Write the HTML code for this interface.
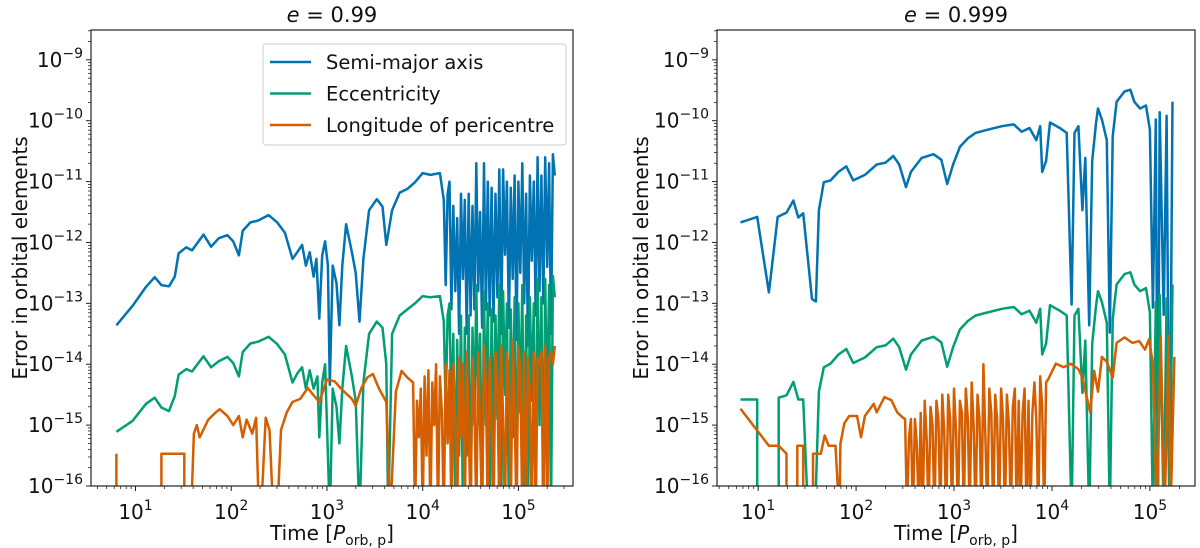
<!DOCTYPE html>
<html><head><meta charset="utf-8">
<style>
html,body{margin:0;padding:0;background:#fff;}
svg{display:block;font-family:"DejaVu Sans","Liberation Sans",sans-serif;}
</style></head>
<body>
<svg id="chart" width="1200" height="548" viewBox="0 0 1200 548" xmlns="http://www.w3.org/2000/svg">
<defs>
<clipPath id="clipL"><rect x="91" y="30" width="482" height="456"/></clipPath>
<clipPath id="clipR"><rect x="717" y="30" width="478" height="456"/></clipPath>
</defs>
</svg>
<script>
// log10(time) and log10(error) arrays; null breaks the line; -16.5 = below axis
const leftBlueT=[0.80,0.97,1.11,1.20,1.27,1.35,1.41,1.45,1.53,1.59,1.71,1.79,1.87,1.96,2.02,2.08,2.12,2.20,2.28,2.39,2.48,2.56,2.64,2.69,2.74,2.78,2.82,2.86,2.89,2.92,2.95,2.98,3.01,3.03,3.06,3.10,3.13,3.16,3.20,3.26,3.30,3.34,3.38,3.44,3.52,3.58,3.62,3.68,3.76,3.84,3.92,4.00,4.08,4.18,
4.22,4.24,4.26,4.28,4.30,4.32,4.34,4.36,4.38,4.40,4.42,4.44,4.46,4.48,4.50,4.52,4.54,4.56,4.58,4.60,4.62,4.64,4.66,4.68,4.70,4.72,4.74,4.76,4.78,4.80,4.82,4.84,4.86,4.88,4.90,4.92,4.94,4.96,4.98,5.00,5.02,5.04,5.06,5.08,5.10,5.12,5.14,5.16,5.18,5.20,5.22,5.24,5.26,5.28,5.30,5.32,5.34,5.36,5.38];
const leftBlueE=[-13.36,-13.04,-12.73,-12.57,-12.70,-12.72,-12.56,-12.18,-12.08,-12.13,-11.87,-12.07,-11.93,-11.88,-11.98,-12.21,-11.81,-11.67,-11.64,-11.55,-11.67,-11.84,-12.27,-12.16,-12.04,-12.38,-12.16,-12.56,-12.27,-13.25,-12.21,-11.98,-12.38,-14.34,-12.38,-12.67,-13.36,-12.38,-11.70,-12.16,-12.50,-13.30,-12.27,-11.47,-11.29,-11.41,-12.04,-11.47,-11.18,-11.12,-11.01,-10.86,-10.89,-10.86,
-11.3,-12.7,-11.2,-11.0,-13.1,-11.4,-12.8,-11.6,-13.5,-11.2,
-12.6,-11.3,-13.5,-11.2,-13.2,-11.4,-13.1,-10.7,-12.8,-11.5,
-13.4,-10.7,-13.1,-11.0,-13.2,-11.1,-13.3,-11.2,-12.9,-10.8,
-13.5,-10.8,-12.2,-11.0,-13.4,-11.1,-12.6,-10.9,-13.6,-11.0,
-12.5,-10.7,-13.0,-11.2,-13.7,-10.9,-12.3,-11.0,-13.2,-10.6,
-12.8,-10.9,-13.0,-10.6,-12.4,-10.7,-13.5,-10.55,-10.9];
const leftGreenT=[0.80,0.97,1.11,1.20,1.27,1.35,1.41,1.45,1.53,1.59,1.71,1.79,1.87,1.96,2.02,2.08,2.12,2.20,2.28,2.39,2.48,2.56,2.64,2.69,2.74,2.78,2.82,2.86,2.90,2.92,2.95,2.98,3.03,3.06,3.10,3.13,3.16,3.20,3.26,3.30,3.34,3.38,3.44,3.52,3.58,3.62,3.64,3.68,3.76,3.84,3.92,4.00,4.08,4.18,
4.22,4.24,4.26,4.28,4.30,4.32,4.34,4.36,4.38,4.40,4.42,4.44,4.46,4.48,4.50,4.52,4.54,4.56,4.58,4.60,4.62,4.64,4.66,4.68,4.70,4.72,4.74,4.76,4.78,4.80,4.82,4.84,4.86,4.88,4.90,4.92,4.94,4.96,4.98,5.00,5.02,5.04,5.06,5.08,5.10,5.12,5.14,5.16,5.18,5.20,5.22,5.24,5.26,5.28,5.30,5.32,5.34,5.36,5.38];
const leftGreenE=[-15.11,-14.93,-14.65,-14.55,-14.71,-14.77,-14.52,-14.17,-14.08,-14.12,-13.87,-14.05,-13.95,-13.88,-13.98,-14.20,-13.80,-13.66,-13.63,-13.55,-13.67,-13.84,-14.30,-14.15,-14.05,-14.40,-14.10,-14.40,-14.2,-15.2,-14.3,-14.0,-16.5,-14.4,-14.7,-15.3,-14.4,-13.7,-14.2,-14.6,-16.5,-14.3,-13.5,-13.3,-13.4,-14.0,-16.5,-13.5,-13.2,-13.1,-13.0,-12.88,-12.9,-12.88,
-13.3,-14.7,-13.2,-13.0,-15.0,-13.5,-16.5,-13.6,-15.5,-13.2,
-16.5,-13.4,-15.5,-13.2,-16.5,-13.4,-15.0,-12.7,-14.8,-13.5,
-16.5,-12.8,-15.0,-13.0,-16.5,-13.1,-15.3,-13.2,-14.9,-12.7,
-16.5,-12.8,-14.5,-13.0,-16.5,-13.1,-15.2,-12.9,-16.5,-13.0,
-14.8,-12.7,-16.5,-13.2,-16.5,-12.9,-14.6,-13.0,-16.5,-12.6,
-15.0,-12.9,-16.5,-12.6,-14.8,-12.7,-16.5,-12.55,-12.9];
const leftOrangeT=[0.80,0.80,null,1.27,1.27,1.51,1.51,null,1.58,1.61,1.64,1.67,1.76,1.84,1.88,1.96,2.02,2.08,2.12,2.16,2.22,2.26,2.29,2.31,2.36,2.40,2.44,2.48,2.52,2.58,2.64,2.72,2.80,2.86,2.92,3.00,3.08,3.14,3.20,3.26,3.30,3.36,3.42,3.48,3.54,3.62,3.66,3.72,3.78,3.84,
3.90,3.92,3.94,3.96,3.98,4.00,4.02,4.04,4.06,4.08,4.10,4.12,4.14,4.16,4.18,4.20,4.22,4.24,4.26,4.28,4.30,4.32,4.34,4.36,4.38,4.40,4.42,4.44,4.46,4.48,4.50,4.52,4.54,4.56,4.58,4.60,4.62,4.64,4.66,4.68,4.70,4.72,4.74,4.76,4.78,4.80,4.82,4.84,4.86,4.88,4.90,4.92,4.94,4.96,4.98,5.00,5.02,5.04,5.06,5.08,5.10,5.12,5.14,5.16,5.18,5.20,5.22,5.24,5.26,5.28,5.30,5.32,5.34,5.36,5.38];
const leftOrangeE=[-16.5,-15.47,null,-16.5,-15.47,-15.47,-16.5,null,-16.5,-15.14,-15.0,-15.2,-14.91,-14.79,-14.74,-14.85,-15.0,-14.85,-15.2,-14.91,-15.14,-14.88,-16.5,-16.5,-14.88,-15.08,-16.5,-16.5,-15.08,-14.79,-14.62,-14.57,-14.39,-14.51,-14.62,-14.25,-14.28,-14.39,-14.48,-14.57,-14.68,-14.39,-14.22,-14.16,-14.39,-14.62,-16.5,-14.45,-14.11,-14.22,
-14.3,-16.5,-14.6,-15.2,-14.4,-16.5,-14.2,-15.5,-14.1,-16.5,
-14.3,-15.0,-14.0,-16.5,-14.2,-14.8,-16.5,-14.0,-15.3,-14.1,
-16.5,-14.0,-14.9,-16.5,-13.9,-15.2,-14.0,-16.5,-13.8,-15.0,
-16.5,-13.9,-14.6,-16.5,-13.8,-15.1,-16.5,-13.7,-14.4,-16.5,
-13.9,-15.0,-16.5,-13.8,-14.3,-16.5,-13.7,-14.9,-16.5,-13.8,
-14.2,-16.5,-13.6,-14.7,-16.5,-13.7,-14.1,-16.5,-13.8,-16.5,
-13.9,-14.5,-16.5,-13.8,-16.5,-13.9,-14.0,-13.8,-16.5,-13.7,
-16.5,-13.9,-13.8,-14.0,-13.7];

const rightBlueT=[0.82,0.99,1.11,1.20,1.29,1.36,1.41,1.46,1.55,1.59,1.62,1.67,1.74,1.82,1.90,1.97,2.09,2.21,2.30,2.38,2.44,2.51,2.56,2.67,2.79,2.87,2.93,2.99,3.06,3.14,3.22,3.34,3.49,3.61,3.69,3.77,3.84,3.88,3.90,3.94,3.98,4.08,4.15,4.20,4.23,4.27,4.31,4.34,4.38,4.41,4.45,4.47,4.51,4.56,4.59,4.62,4.66,4.74,4.80,4.84,4.90,4.96,5.00,5.03,5.06,5.08,5.10,5.14,5.17,5.20,5.23];
const rightBlueE=[-11.67,-11.58,-12.82,-11.58,-11.51,-11.31,-11.59,-11.52,-12.93,-12.97,-11.47,-11.01,-10.98,-10.84,-10.75,-10.98,-10.89,-10.72,-10.69,-10.58,-10.72,-11.09,-10.84,-10.61,-10.55,-10.64,-11.04,-10.72,-10.43,-10.29,-10.20,-10.15,-10.09,-10.06,-10.18,-10.12,-10.32,-10.09,-10.84,-10.66,-10.03,-10.12,-10.20,-13.02,-10.20,-10.09,-11.47,-10.61,-13.36,-10.66,-10.03,-9.80,-9.98,-10.32,-13.48,-10.26,-9.69,-9.52,-9.49,-9.69,-9.80,-9.75,-10.15,-13.07,-9.98,-16.5,-9.86,-13.19,-9.92,-16.5,-9.69];
const rightGreenT=[0.82,0.99,0.99,null,1.21,1.21,1.29,1.36,1.41,1.46,1.51,null,1.58,1.62,1.67,1.74,1.82,1.90,1.97,2.09,2.21,2.30,2.38,2.44,2.51,2.56,2.67,2.79,2.87,2.93,2.99,3.06,3.14,3.22,3.34,3.49,3.61,3.69,3.77,3.84,3.88,3.90,3.94,3.98,4.08,4.15,4.20,4.23,4.27,4.31,4.34,4.38,4.41,4.45,4.47,4.51,4.56,4.59,4.62,4.66,4.74,4.80,4.84,4.90,4.96,5.00,5.03,5.06,5.08,5.10,5.14,5.17,5.20,5.23];
const rightGreenE=[-14.58,-14.58,-16.5,null,-16.5,-14.55,-14.51,-14.29,-14.58,-14.58,-16.5,null,-16.5,-14.45,-14.05,-13.99,-13.84,-13.75,-13.98,-13.89,-13.72,-13.69,-13.58,-13.72,-14.09,-13.84,-13.61,-13.55,-13.64,-14.04,-13.72,-13.43,-13.29,-13.20,-13.15,-13.09,-13.06,-13.18,-13.12,-13.32,-13.09,-13.84,-13.66,-13.03,-13.12,-13.20,-16.5,-13.20,-13.09,-14.47,-13.61,-16.5,-13.66,-13.03,-12.80,-12.98,-13.32,-16.5,-13.26,-12.69,-12.52,-12.49,-12.69,-12.80,-12.75,-13.15,-16.5,-12.98,-16.5,-12.86,-16.5,-12.92,-16.5,-12.69];
const rightOrangeT=[0.82,1.11,1.21,1.29,1.29,null,1.40,1.40,1.46,1.46,null,1.56,1.56,1.64,1.68,1.72,1.79,1.83,1.84,1.88,1.93,2.01,2.05,2.09,2.18,2.21,2.29,2.36,2.42,2.48,
2.50,2.52,2.54,2.56,2.58,2.60,2.62,2.64,2.66,2.68,2.70,2.72,2.74,2.76,2.78,2.80,2.82,2.84,2.86,2.88,2.90,2.92,2.94,2.96,2.98,3.00,3.02,3.04,3.06,3.08,3.10,3.12,3.14,3.16,3.18,3.20,3.22,3.24,3.26,3.28,3.30,3.32,3.34,3.36,3.38,3.40,3.42,3.44,3.46,3.48,3.50,3.52,3.54,3.56,3.58,3.60,3.62,3.64,3.66,3.68,3.70,3.72,3.74,3.76,3.78,3.80,3.82,3.84,3.86,3.88,3.90,3.92,3.94,3.96,
4.04,4.12,4.19,4.27,4.31,4.35,4.39,4.43,4.47,4.51,4.56,4.62,4.66,4.74,4.82,4.89,4.95,4.99,5.03,5.07,5.11,5.15,5.19,5.21,5.25];
const rightOrangeE=[-14.73,-15.34,-15.34,-15.47,-16.5,null,-16.5,-15.34,-15.34,-16.5,null,-16.5,-15.47,-15.47,-15.17,-15.34,-15.34,-16.5,-15.31,-14.97,-14.85,-14.85,-15.20,-14.85,-14.65,-14.79,-14.54,-14.59,-14.79,-14.88,
-14.9,-16.5,-15.2,-14.9,-16.5,-14.9,-15.3,-16.5,-14.8,-16.5,
-14.6,-15.2,-16.5,-14.7,-15.0,-16.5,-14.6,-14.9,-16.5,-14.5,
-15.1,-16.5,-14.5,-14.9,-16.5,-14.4,-15.1,-16.5,-14.6,-14.8,
-16.5,-14.4,-14.9,-16.5,-14.3,-15.0,-16.5,-14.5,-14.9,-16.5,
-14.0,-15.2,-16.5,-14.4,-14.8,-16.5,-14.5,-14.9,-16.5,-14.4,
-14.9,-16.5,-14.5,-15.0,-16.5,-14.7,-14.4,-16.5,-14.6,-16.5,
-14.8,-14.4,-16.5,-14.6,-16.5,-14.8,-14.3,-14.9,-16.5,-14.2,
-14.7,-16.5,-14.3,-14.25,
-13.99,-14.05,-13.99,-14.08,-14.22,-14.51,-14.79,-14.11,-14.45,-13.88,-13.96,-14.22,-13.65,-13.56,-13.65,-13.62,-13.76,-13.59,-13.99,-16.5,-13.53,-16.5,-13.53,-16.5,-13.88];

const yTicks=[-16,-15,-14,-13,-12,-11,-10,-9];
const xTicks=[1,2,3,4,5];
const legendLabels=["Semi-major axis","Eccentricity","Longitude of pericentre"];
const colors=["#0173b2","#029e73","#d55e00"];

const NS="http://www.w3.org/2000/svg";
const svg=document.getElementById('chart');
function mk(tag,attrs,parent){const e=document.createElementNS(NS,tag);for(const k in attrs)e.setAttribute(k,attrs[k]);(parent||svg).appendChild(e);return e;}

function panel(p){
  const g=mk('g',{});
  
  
  const sx=v=>p.x0+(v-p.tmin)/(p.tmax-p.tmin)*(p.x1-p.x0);
  const sy=v=>p.y1-(v-p.emin)/(p.emax-p.emin)*(p.y1-p.y0);
  const sg=mk('g',{'clip-path':'url(#'+p.clip+')'},g);
  p.series.forEach((s,i)=>{
    let d='',pen=false;
    for(let k=0;k<s.t.length;k++){
      if(s.t[k]===null||s.e[k]===null){pen=false;continue;}
      d+=(pen?'L':'M')+sx(s.t[k]).toFixed(1)+','+sy(s.e[k]).toFixed(1);pen=true;
    }
    const path=mk('path',{d:d,fill:'none',stroke:colors[i],'stroke-width':2.5,'stroke-linejoin':'round'},sg);
    
    
  });
  const fr=mk('rect',{x:p.x0,y:p.y0,width:p.x1-p.x0,height:p.y1-p.y0,fill:'none',stroke:'#222','stroke-width':1.2},g);
  
  
  yTicks.forEach(v=>{
    const y=sy(v);
    mk('line',{x1:p.x0-5,x2:p.x0,y1:y,y2:y,stroke:'#222','stroke-width':1},g);
    const t=mk('text',{x:p.x0-8,y:y+7,'text-anchor':'end','font-size':20,fill:'#111'},g);
    
    
    t.innerHTML='10<tspan dy="-9" font-size="14">\u2212'+(-v)+'</tspan>';
  });
  for(let dcd=-17;dcd<=-8;dcd++)for(let m=2;m<=9;m++){const v=dcd+Math.log10(m);if(v<p.emin||v>p.emax)continue;const y=sy(v);mk('line',{x1:p.x0-3,x2:p.x0,y1:y,y2:y,stroke:'#222','stroke-width':0.8},g);}
  xTicks.forEach(v=>{
    const x=sx(v);
    mk('line',{x1:x,x2:x,y1:p.y1,y2:p.y1+5,stroke:'#222','stroke-width':1},g);
    const t=mk('text',{x:x,y:p.y1+33,'text-anchor':'middle','font-size':20,fill:'#111'},g);
    
    
    t.innerHTML='10<tspan dy="-9" font-size="14">'+v+'</tspan>';
  });
  for(let dcd=0;dcd<=5;dcd++)for(let m=2;m<=9;m++){const v=dcd+Math.log10(m);if(v<p.tmin||v>p.tmax)continue;const x=sx(v);mk('line',{x1:x,x2:x,y1:p.y1,y2:p.y1+3,stroke:'#222','stroke-width':0.8},g);}
  const cx=(p.x0+p.x1)/2;
  const ti=mk('text',{x:cx,y:22,'text-anchor':'middle','font-size':21,fill:'#111'},g);
  
  
  ti.innerHTML='<tspan font-style="italic">e</tspan> = '+p.title;
  const xl=mk('text',{x:cx,y:540,'text-anchor':'middle','font-size':20,fill:'#111'},g);
  
  
  xl.innerHTML='Time [<tspan font-style="italic">P</tspan><tspan dy="5" font-size="14">orb, p</tspan><tspan dy="-5">]</tspan>';
  const yl=mk('text',{x:0,y:0,'text-anchor':'middle','font-size':20,fill:'#111',transform:'translate('+p.ylx+','+((p.y0+p.y1)/2)+') rotate(-90)'},g);
  
  
  yl.textContent='Error in orbital elements';
}

panel({name:'panel-e099',clip:'clipL',x0:91,x1:573,y0:30,y1:486,tmin:0.535,tmax:5.57,emin:-16,emax:-8.51,title:'0.99',ylx:27,
  series:[{name:'semi-major-axis-line',t:leftBlueT,e:leftBlueE},{name:'eccentricity-line',t:leftGreenT,e:leftGreenE},{name:'pericentre-line',t:leftOrangeT,e:leftOrangeE}]});
panel({name:'panel-e0999',clip:'clipR',x0:717,x1:1195,y0:30,y1:486,tmin:0.58,tmax:5.46,emin:-16,emax:-8.51,title:'0.999',ylx:648,
  series:[{name:'semi-major-axis-line',t:rightBlueT,e:rightBlueE},{name:'eccentricity-line',t:rightGreenT,e:rightGreenE},{name:'pericentre-line',t:rightOrangeT,e:rightOrangeE}]});

const lg=mk('g',{});


mk('rect',{x:263,y:44,width:303,height:101,rx:3,fill:'#fff','fill-opacity':0.85,stroke:'#ccc','stroke-width':1},lg);
legendLabels.forEach((lab,i)=>{
  const y=62+i*31.5;
  const en=mk('g',{},lg);
  
  
  mk('line',{x1:270,x2:311,y1:y,y2:y,stroke:colors[i],'stroke-width':2.5},en);
  const t=mk('text',{x:326,y:y+7,'font-size':19.5,fill:'#111'},en);
  t.textContent=lab;
});
</script>
</body></html>
